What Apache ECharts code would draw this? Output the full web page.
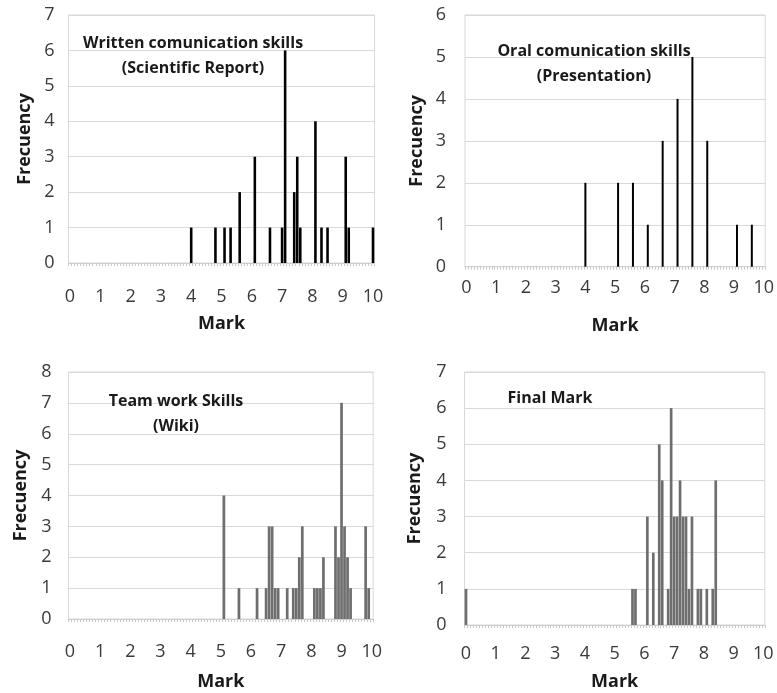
<!DOCTYPE html>
<html>
<head>
<meta charset="utf-8">
<script src="https://cdn.jsdelivr.net/npm/echarts@6/dist/echarts.min.js"></script>
<style>
  html, body { margin: 0; padding: 0; background: #fff; }
  #chart { width: 777px; height: 693px; }
</style>
</head>
<body>
<div id="chart"></div>
<script>
// Mark bins (0.0 .. 10.0 step 0.1) and integer tick labels
const tickLabels = ['0','1','2','3','4','5','6','7','8','9','10'];

// Written communication skills (Scientific Report)
const writtenMarks = [4.0, 4.8, 5.1, 5.3, 5.6, 6.1, 6.6, 7.0, 7.1, 7.4, 7.5, 7.6, 8.1, 8.3, 8.5, 9.1, 9.2, 10.0];
const writtenFreq  = [1,   1,   1,   1,   2,   3,   1,   1,   6,   2,   3,   1,   4,   1,   1,   3,   1,   1];

// Oral communication skills (Presentation)
const oralMarks = [4.0, 5.1, 5.6, 6.1, 6.6, 7.1, 7.6, 8.1, 9.1, 9.6];
const oralFreq  = [2,   2,   2,   1,   3,   4,   5,   3,   1,   1];

// Team work skills (Wiki)
const teamMarks = [5.1, 5.6, 6.2, 6.5, 6.6, 6.7, 6.8, 6.9, 7.2, 7.4, 7.5, 7.6, 7.7, 8.1, 8.2, 8.3, 8.4, 8.8, 8.9, 9.0, 9.1, 9.2, 9.3, 9.8, 9.9];
const teamFreq  = [4,   1,   1,   1,   3,   3,   1,   1,   1,   1,   1,   2,   3,   1,   1,   1,   2,   3,   2,   7,   3,   2,   1,   3,   1];

// Final mark
const finalMarks = [0.0, 5.6, 5.7, 6.1, 6.3, 6.5, 6.6, 6.8, 6.9, 7.0, 7.1, 7.2, 7.3, 7.4, 7.5, 7.6, 7.8, 7.9, 8.1, 8.3, 8.4];
const finalFreq  = [1,   1,   1,   3,   2,   5,   4,   1,   6,   3,   3,   4,   3,   3,   1,   3,   1,   1,   1,   1,   4];

// Category list of bins
const categories = [];
for (let i = 0; i <= 100; i++) categories.push((i / 10).toFixed(1));

function binned(marks, freq) {
  const map = {};
  marks.forEach((m, i) => { map[m.toFixed(1)] = freq[i]; });
  return categories.map(c => (map[c] !== undefined ? map[c] : 0));
}

const FONT = '"Open Sans"';
const panels = [
  { grid: { left: 68.5, top: 15, width: 306, height: 248 }, yMax: 7, data: binned(writtenMarks, writtenFreq), color: '#000', barWidth: '85%',
    xMargin: 25, xGap: 52, yMargin: 14, yGap: 35,
    title: 'Written comunication skills\n(Scientific Report)', tLeft: 188, tTop: 25.5 },
  { grid: { left: 465, top: 15, width: 303, height: 251.7 }, yMax: 6, data: binned(oralMarks, oralFreq), color: '#000', barWidth: 2,
    xMargin: 12, xGap: 50, yMargin: 19, yGap: 39,
    title: 'Oral comunication skills\n(Presentation)', tLeft: 589, tTop: 34 },
  { grid: { left: 68.5, top: 372, width: 304.7, height: 247 }, yMax: 8, data: binned(teamMarks, teamFreq), color: '#6e6e6e', barWidth: '90%',
    xMargin: 24, xGap: 54, yMargin: 17, yGap: 38.5,
    title: 'Team work Skills\n(Wiki)', tLeft: 171, tTop: 384 },
  { grid: { left: 464.5, top: 372, width: 300.3, height: 253 }, yMax: 7, data: binned(finalMarks, finalFreq), color: '#6e6e6e', barWidth: '90%',
    xMargin: 20, xGap: 48, yMargin: 18, yGap: 40.5,
    title: 'Final Mark', tLeft: 545, tTop: 381 }
];

const option = {
  animation: false,
  backgroundColor: '#fff',
  title: panels.map(p => ({
    text: p.title, left: p.tLeft, top: p.tTop, textAlign: 'center',
    textStyle: { fontFamily: FONT, fontSize: 16, fontWeight: 'bold', color: '#1a1a1a', lineHeight: 25 }
  })),
  grid: panels.map(p => Object.assign({ show: true, borderColor: '#d9d9d9', borderWidth: 1, containLabel: false }, p.grid)),
  xAxis: panels.map((p, i) => ({
    type: 'category', gridIndex: i, data: categories,
    name: 'Mark', nameLocation: 'middle', nameGap: p.xGap,
    nameTextStyle: { fontFamily: FONT, fontSize: 18, fontWeight: 'bold', color: '#1a1a1a' },
    axisLine: { lineStyle: { color: '#d0d0d0', width: 1 } },
    axisTick: { show: true, interval: 0, length: 3, lineStyle: { color: '#c8c8c8' } },
    axisLabel: { interval: 9, margin: p.xMargin, fontFamily: FONT, fontSize: 18, color: '#3a3a3a',
      formatter: v => tickLabels[Math.round(parseFloat(v))] },
    splitLine: { show: false }
  })),
  yAxis: panels.map((p, i) => ({
    type: 'value', gridIndex: i, min: 0, max: p.yMax, interval: 1,
    name: 'Frecuency', nameLocation: 'middle', nameGap: p.yGap, nameRotate: 90,
    nameTextStyle: { fontFamily: FONT, fontSize: 18, fontWeight: 'bold', color: '#1a1a1a' },
    axisLine: { show: false }, axisTick: { show: false },
    axisLabel: { margin: p.yMargin, fontFamily: FONT, fontSize: 18, color: '#3a3a3a' },
    splitLine: { lineStyle: { color: '#d9d9d9', width: 1 } }
  })),
  series: panels.map((p, i) => ({
    type: 'bar', xAxisIndex: i, yAxisIndex: i, data: p.data,
    barWidth: p.barWidth, itemStyle: { color: p.color }
  }))
};

const chart = echarts.init(document.getElementById('chart'), null, { renderer: 'canvas' });
chart.setOption(option);
</script>
</body>
</html>
